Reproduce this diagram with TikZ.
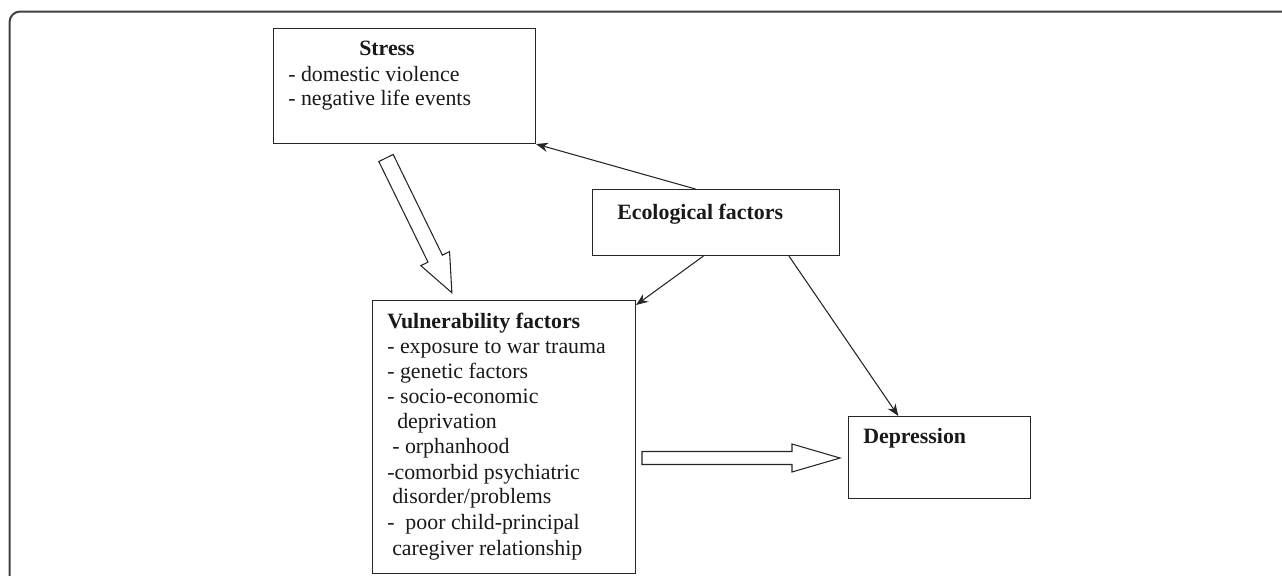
\documentclass[tikz,border=0pt]{standalone}
\usepackage{fontspec}
\setmainfont{Liberation Serif}
\usetikzlibrary{arrows.meta,calc}
\begin{document}
\begin{tikzpicture}[x=0.75pt,y=-0.75pt,
  box/.style={draw=black!85,line width=0.8pt,anchor=north west,inner sep=0pt},
  txt/.style={anchor=base west,inner sep=0pt,text=black!90,font=\fontsize{16.4pt}{18.9pt}\selectfont},
  btxt/.style={txt,font=\fontsize{16.4pt}{18.9pt}\selectfont\bfseries},
  conn/.style={draw=black!85,line width=0.8pt,-{Stealth[length=9pt,width=7pt]}},
  hollow/.style={draw=black!85,line width=0.8pt,fill=white,line join=miter}]
\useasboundingbox (0,0) rectangle (1282,575);
% outer frame
\draw[black!75,line width=1.5pt,rounded corners=8pt] (9.5,600) -- (9.5,11.5) -- (1300,11.5);
% boxes
\node[box,minimum width=196.5pt,minimum height=86.25pt] (stress) at (273,28) {};
\node[box,minimum width=185.25pt,minimum height=49.5pt] (eco) at (592,189) {};
\node[box,minimum width=197.25pt,minimum height=204.75pt] (vul) at (372,300) {};
\node[box,minimum width=136.5pt,minimum height=61.5pt] (dep) at (848,416) {};
% texts
\node[btxt,anchor=base] (st0) at (387,55) {Stress};
\node[txt] (st1) at (288,81) {- domestic violence};
\node[txt] (st2) at (288,105) {- negative life events};
\node[btxt] (ec0) at (617,219) {Ecological factors};
\node[btxt] (de0) at (863,443) {Depression};
\node[btxt] (vu0) at (387,328) {Vulnerability factors};
\node[txt] (vu1) at (387,353) {- exposure to war trauma};
\node[txt] (vu2) at (387,378) {- genetic factors};
\node[txt] (vu3) at (387,403) {- socio-economic};
\node[txt] (vu4) at (397,428) {deprivation};
\node[txt] (vu5) at (392,453) {- orphanhood};
\node[txt] (vu6) at (387,479) {-comorbid psychiatric};
\node[txt] (vu7) at (392,503) {disorder/problems};
\node[txt] (vu8) at (387,529) {-\ \ poor child-principal};
\node[txt] (vu9) at (392,555) {caregiver relationship};
% connectors
\draw[conn] ($(eco.north west)!0.417!(eco.north east)$) -- (stress.south east);
\draw[conn] ($(eco.south west)!0.449!(eco.south east)$) -- ($(vul.north east)+(0,5)$);
\draw[conn] ($(eco.south west)!0.794!(eco.south east)$) -- ($(dep.north west)!0.275!(dep.north east)$);
% hollow arrows
\coordinate (h1) at (386,158);
\coordinate (h2) at (642,458);
\begin{scope}[shift={(h1)},rotate=-63.95]
\draw[hollow] (0,-8) -- (112,-8) -- (112,-16) -- (150,0) -- (112,16) -- (112,8) -- (0,8) -- cycle;
\end{scope}
\begin{scope}[shift={(h2)}]
\draw[hollow] (0,-6.5) -- (150,-6.5) -- (150,-14) -- (198,0) -- (150,14) -- (150,6.5) -- (0,6.5) -- cycle;
\end{scope}
\end{tikzpicture}
\end{document}
